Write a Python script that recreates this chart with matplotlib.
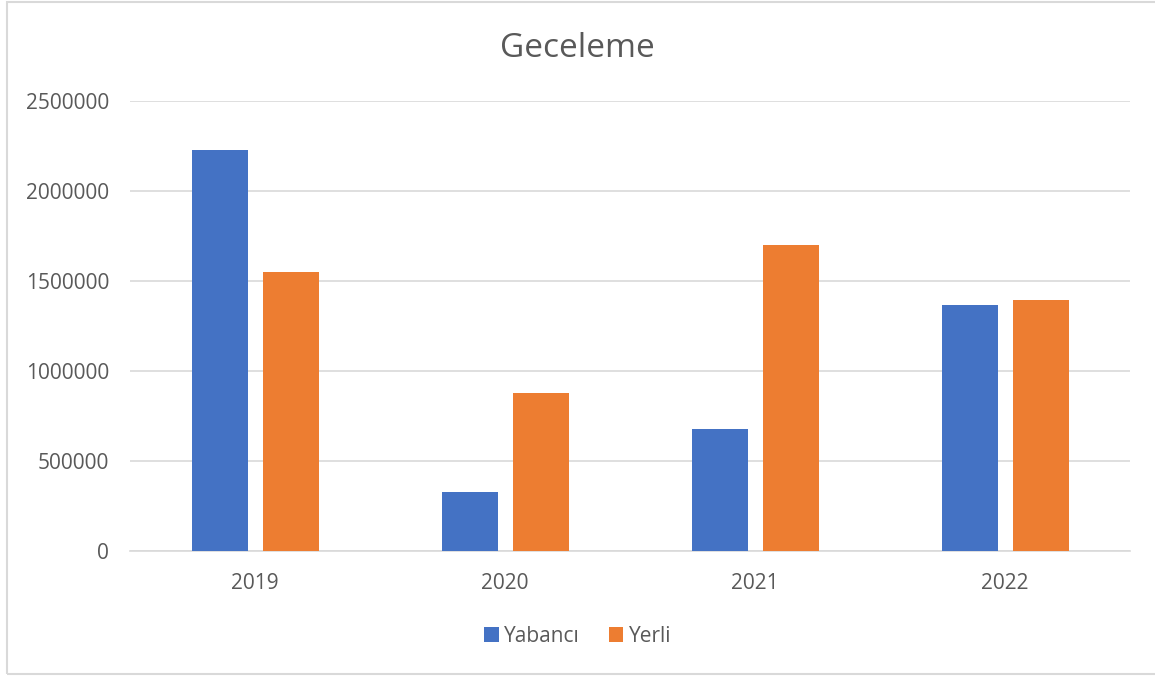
import matplotlib
matplotlib.use('Agg')
import matplotlib.pyplot as plt
import matplotlib.patches as patches
import numpy as np

years = ['2019', '2020', '2021', '2022']
yabanci = [2230000, 330000, 680000, 1365000]
yerli = [1550000, 875000, 1700000, 1395000]
yticks = [0, 500000, 1000000, 1500000, 2000000, 2500000]

plt.rcParams['font.family'] = ['Open Sans', 'DejaVu Sans']
gray = '#595959'

fig = plt.figure(figsize=(11.55, 6.8), dpi=100)
ax = fig.add_axes([0.1126, 0.1897, 0.8658, 0.6618])

x = np.arange(len(years))
w = 0.224
ax.bar(x - 0.142, yabanci, w, color='#4472c4', label='Yabancı', zorder=3)
ax.bar(x + 0.142, yerli, w, color='#ed7d31', label='Yerli', zorder=3)

ax.set_xlim(-0.5, len(years) - 0.5)
ax.set_ylim(0, 2500000)
ax.set_yticks(yticks)
ax.set_yticklabels([str(v) for v in yticks], fontsize=15, color=gray)
ax.set_xticks(x)
ax.set_xticklabels(years, fontsize=15, color=gray)
ax.tick_params(length=0)
ax.tick_params(axis='x', pad=16)
ax.tick_params(axis='y', pad=15)
ax.grid(axis='y', color='#d9d9d9', linewidth=1.2, zorder=0)
for s in ['top', 'right', 'left']:
    ax.spines[s].set_visible(False)
ax.spines['bottom'].set_color('#d9d9d9')
ax.spines['bottom'].set_linewidth(1.2)

fig.text(0.5, 0.928, 'Geceleme', ha='center', va='center', fontsize=24, color=gray)

leg = fig.legend(loc='center', bbox_to_anchor=(0.5, 0.064), ncol=2, frameon=False,
                 fontsize=15, handlelength=0.7, handleheight=0.7, handletextpad=0.25,
                 columnspacing=1.4)
for t in leg.get_texts():
    t.set_color(gray)

# chart frame
frame = patches.Rectangle((7 / 1155, 6 / 680), 1.05, 672 / 680, transform=fig.transFigure,
                          fill=False, edgecolor='#d9d9d9', linewidth=1.5, clip_on=False)
fig.add_artist(frame)

# caption below chart (cut off in the original)
fig.text(0.5, -0.012, 'Şekil 4. Geceleme', ha='center', va='center', fontsize=14,
         family='Liberation Serif', fontweight='bold')

fig.savefig('out.png', dpi=100)
